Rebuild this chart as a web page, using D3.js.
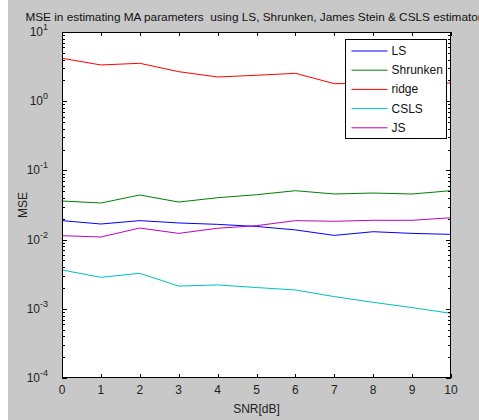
<!DOCTYPE html>
<html>
<head>
<meta charset="utf-8">
<script src="https://cdn.jsdelivr.net/npm/d3@7"></script>
<style>
  body { margin: 0; background: #fff; }
  svg { display: block; font-family: "Liberation Sans", Arial, sans-serif; }
</style>
</head>
<body>
<div id="chart"></div>
<script>
// SNR values on the x axis
const snr = [0, 1, 2, 3, 4, 5, 6, 7, 8, 9, 10];

// MSE, one array per estimator
const lsValues       = [0.0188, 0.0168, 0.0188, 0.0174, 0.0166, 0.0155, 0.0138, 0.0115, 0.0130, 0.0123, 0.0119];
const shrunkenValues = [0.0361, 0.0338, 0.0441, 0.0349, 0.0403, 0.0445, 0.0509, 0.0456, 0.0471, 0.0456, 0.0509];
const ridgeValues    = [4.17, 3.34, 3.53, 2.67, 2.24, 2.37, 2.53, 1.79, 1.83, 1.85, 1.83];
const cslsValues     = [0.00364, 0.00285, 0.00326, 0.00213, 0.00221, 0.00203, 0.00187, 0.00150, 0.00124, 0.00104, 0.00086];
const jsValues       = [0.0114, 0.0109, 0.0147, 0.0123, 0.0146, 0.0159, 0.0188, 0.0184, 0.0190, 0.0190, 0.0207];

const seriesNames = ["LS", "Shrunken", "ridge", "CSLS", "JS"];
const seriesColors = ["#0000ff", "#008000", "#ff0000", "#00bfbf", "#bf00bf"];
const seriesValues = [lsValues, shrunkenValues, ridgeValues, cslsValues, jsValues];

const xTicks = [0, 1, 2, 3, 4, 5, 6, 7, 8, 9, 10];
const yExponents = [1, 0, -1, -2, -3, -4];

const width = 479, height = 420;
const margin = { top: 32, right: 28, bottom: 42, left: 62 };

const svg = d3.select("#chart").append("svg")
  .attr("width", width)
  .attr("height", height);

// grey figure background, thin white strip on the left like the screenshot
svg.append("rect")
  .attr("x", 8).attr("y", 0)
  .attr("width", width - 8).attr("height", height)
  .attr("fill", "#c8c8c8");

const x = d3.scaleLinear().domain([0, 10]).range([margin.left, width - margin.right]);
const y = d3.scaleLog().domain([1e-4, 10]).range([height - margin.bottom, margin.top]);

const plotW = x.range()[1] - x.range()[0];
const plotH = y.range()[0] - y.range()[1];
const plotTop = y.range()[1], plotBottom = y.range()[0];
const plotLeft = x.range()[0], plotRight = x.range()[1];

svg.append("rect")
  .attr("x", plotLeft).attr("y", plotTop)
  .attr("width", plotW).attr("height", plotH)
  .attr("fill", "#fff");

// lines
const line = d3.line()
  .x((d, i) => x(snr[i]))
  .y(d => y(d));

seriesValues.forEach((vals, i) => {
  svg.append("path")
    .datum(vals)
    .attr("fill", "none")
    .attr("stroke", seriesColors[i])
    .attr("stroke-width", 1)
    .attr("d", line);
});

// ticks (inward, mirrored on top and right)
const tickG = svg.append("g").attr("stroke", "#000").attr("stroke-width", 1);

xTicks.forEach(t => {
  const px = Math.round(x(t)) + 0.5;
  tickG.append("line").attr("x1", px).attr("x2", px).attr("y1", plotBottom).attr("y2", plotBottom - 4);
  tickG.append("line").attr("x1", px).attr("x2", px).attr("y1", plotTop).attr("y2", plotTop + 4);
});

const minorTicks = [];
yExponents.slice(1).forEach(e => {
  for (let k = 2; k <= 9; k++) minorTicks.push(k * Math.pow(10, e));
});
minorTicks.forEach(v => {
  const py = Math.round(y(v)) + 0.5;
  tickG.append("line").attr("x1", plotLeft).attr("x2", plotLeft + 3).attr("y1", py).attr("y2", py);
  tickG.append("line").attr("x1", plotRight).attr("x2", plotRight - 3).attr("y1", py).attr("y2", py);
});
yExponents.forEach(e => {
  const py = Math.round(y(Math.pow(10, e))) + 0.5;
  tickG.append("line").attr("x1", plotLeft).attr("x2", plotLeft + 5).attr("y1", py).attr("y2", py);
  tickG.append("line").attr("x1", plotRight).attr("x2", plotRight - 5).attr("y1", py).attr("y2", py);
});

// frame
svg.append("rect")
  .attr("x", plotLeft + 0.5).attr("y", plotTop + 0.5)
  .attr("width", plotW - 1).attr("height", plotH - 1)
  .attr("fill", "none")
  .attr("stroke", "#000");

// tick labels
svg.append("g").selectAll("text")
  .data(xTicks)
  .join("text")
  .attr("x", d => x(d))
  .attr("y", plotBottom + 16)
  .attr("text-anchor", "middle")
  .attr("font-size", 12)
  .attr("fill", "#222")
  .text(d => d);

const yLab = svg.append("g").selectAll("text")
  .data(yExponents)
  .join("text")
  .attr("x", plotLeft - 14)
  .attr("y", d => y(Math.pow(10, d)) + 4)
  .attr("text-anchor", "end")
  .attr("font-size", 12)
  .attr("fill", "#222");
yLab.append("tspan").text("10");
yLab.append("tspan")
  .attr("font-size", 9)
  .attr("dy", -6)
  .text(d => d);

// axis titles
svg.append("text")
  .attr("x", (plotLeft + plotRight) / 2)
  .attr("y", plotBottom + 35)
  .attr("text-anchor", "middle")
  .attr("font-size", 12)
  .attr("fill", "#222")
  .text("SNR[dB]");

svg.append("text")
  .attr("transform", `translate(27,${(plotTop + plotBottom) / 2}) rotate(-90)`)
  .attr("text-anchor", "middle")
  .attr("font-size", 12)
  .attr("fill", "#222")
  .text("MSE");

// title is centred over the axes and runs past the right edge, as in the screenshot
const title = svg.append("text")
  .attr("x", (plotLeft + plotRight) / 2)
  .attr("y", 21)
  .attr("text-anchor", "middle")
  .attr("font-size", 12)
  .attr("fill", "#111")
  .style("white-space", "pre")
  .text("MSE in estimating MA parameters  using LS, Shrunken, James Stein & CSLS estimators");
const titleLen = title.node().getComputedTextLength();
title.attr("font-size", 12 * 463 / titleLen);

// legend
const legend = svg.append("g").attr("transform", "translate(345.5,39.5)");
legend.append("rect")
  .attr("width", 101).attr("height", 99)
  .attr("fill", "#fff")
  .attr("stroke", "#000");

const entry = legend.selectAll("g.entry")
  .data(seriesNames)
  .join("g")
  .attr("class", "entry")
  .attr("transform", (d, i) => `translate(0,${11.5 + i * 19.2})`);
entry.append("line")
  .attr("x1", 6).attr("x2", 42)
  .attr("stroke", (d, i) => seriesColors[i]);
entry.append("text")
  .attr("x", 46)
  .attr("y", 4)
  .attr("font-size", 12)
  .attr("fill", "#111")
  .text(d => d);
</script>
</body>
</html>
